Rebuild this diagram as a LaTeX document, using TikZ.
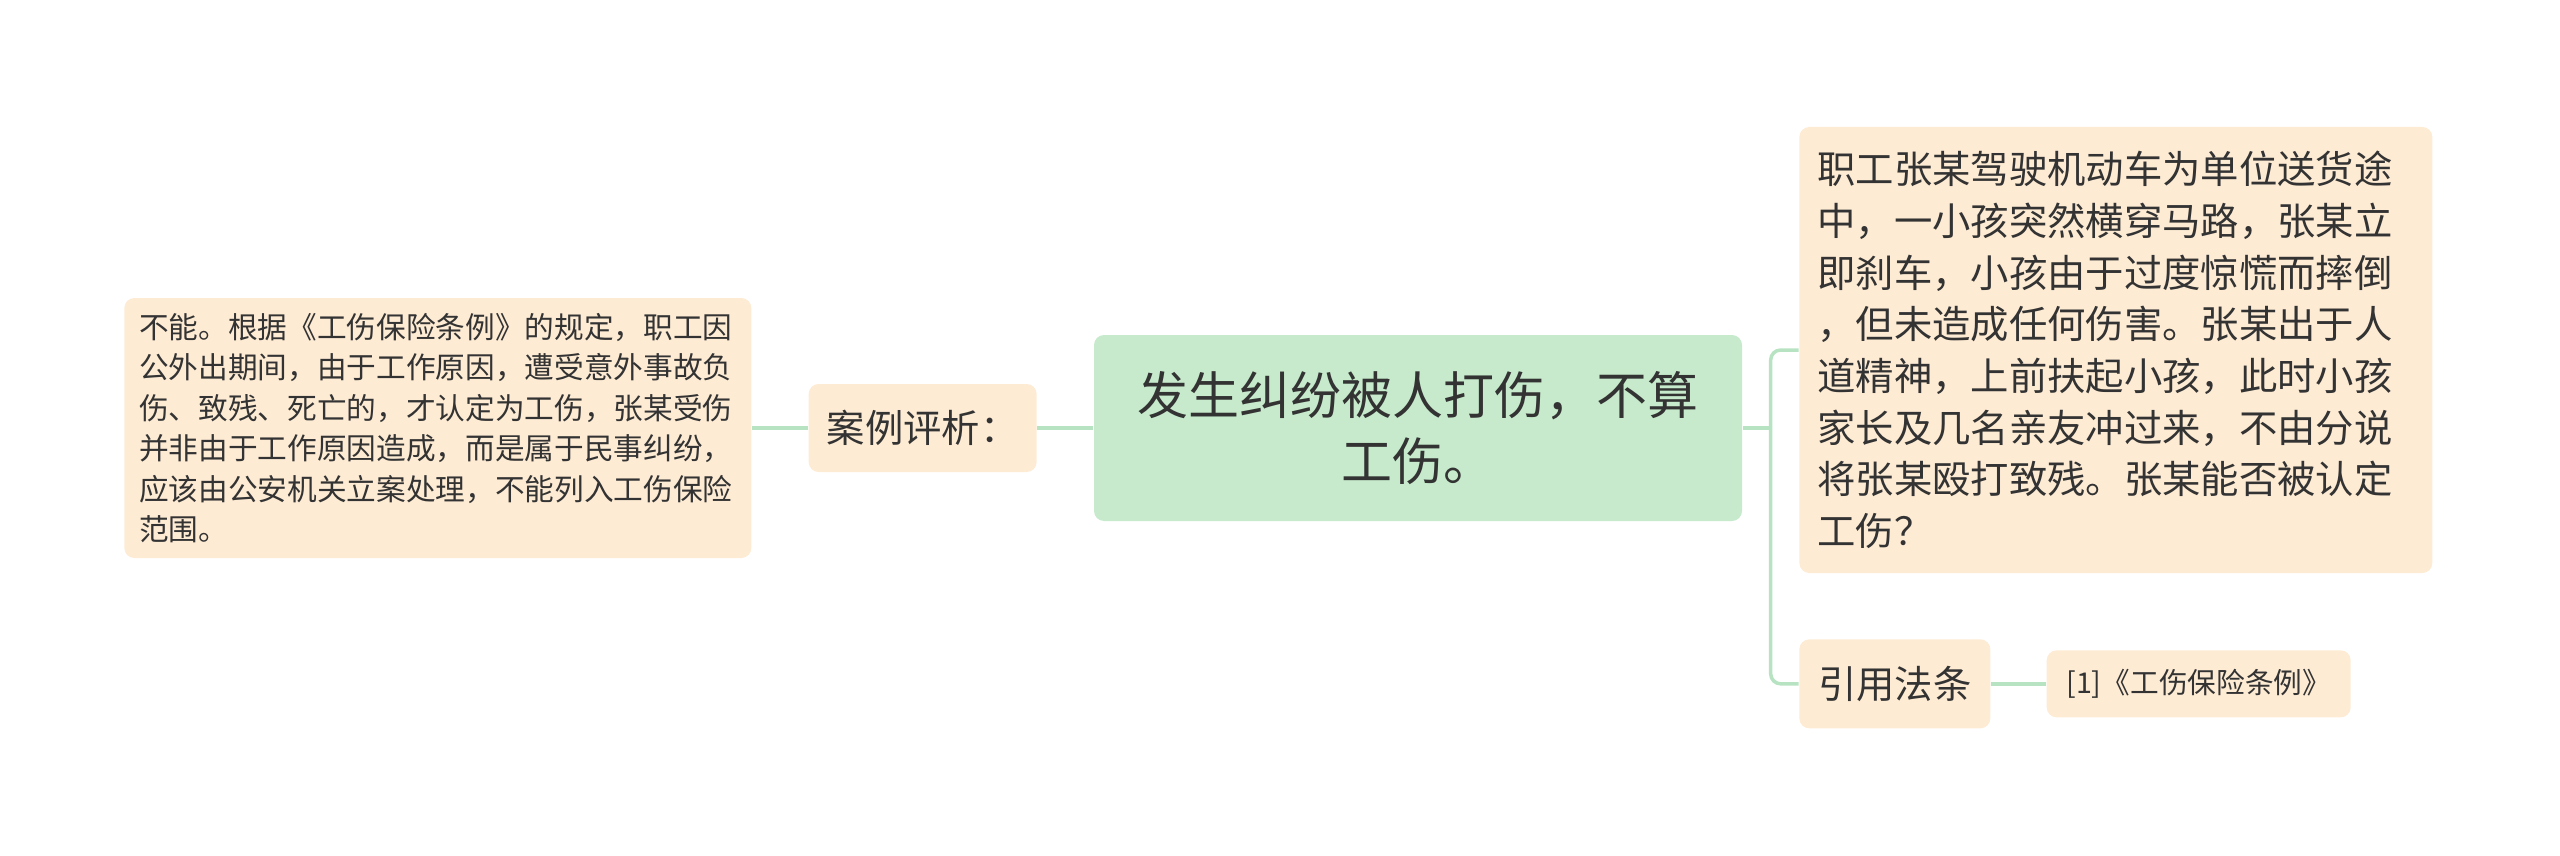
\documentclass[tikz,border=0pt]{standalone}
\usepackage{fontspec}
\setmainfont{Noto Sans CJK SC}
\usetikzlibrary{positioning,calc}
\definecolor{boxfill}{HTML}{FDEBD4}
\definecolor{topfill}{HTML}{C6EACB}
\definecolor{linkcol}{HTML}{B8E3C2}
\definecolor{txt}{HTML}{333333}

\begin{document}
\begin{tikzpicture}[
		node distance=16.8pt,
		topic/.style={fill=topfill,rounded corners=3pt,text=txt,align=center,text width=180pt,inner xsep=7.2pt,minimum height=55.8pt,font=\fontsize{15.3}{19.6}\selectfont},
		leaf/.style={fill=boxfill,rounded corners=3pt,text=txt,inner sep=0pt},
		big/.style={leaf,align=left,font=\fontsize{11.5}{15.5}\selectfont},
		small/.style={leaf,align=left,font=\fontsize{8.9}{12.15}\selectfont},
		link/.style={draw=linkcol,line width=1.05pt}
		]
		\useasboundingbox (0,0) rectangle (768pt,-256.8pt);
		\node[topic] at (425.4pt,-128.4pt) (ctr) {发生纠纷被人打伤，不算\\工伤。};
		\node[leaf,left=of ctr,minimum width=68.4pt,minimum height=26.4pt,font=\fontsize{11.5}{15.5}\selectfont] (case) {案例评析：};
		\node[small,left=of case,text width=179.3pt,inner xsep=4.4pt,minimum height=78pt] (note) {不能。根据《工伤保险条例》的规定，职工因\\公外出期间，由于工作原因，遭受意外事故负\\伤、致残、死亡的，才认定为工伤，张某受伤\\并非由于工作原因造成，而是属于民事纠纷，\\应该由公安机关立案处理，不能列入工伤保险\\范围。};
		\node[big,right=of ctr,yshift=23.4pt,text width=179.1pt,inner xsep=5.4pt,minimum height=133.8pt] (story) {职工张某驾驶机动车为单位送货途\\中，一小孩突然横穿马路，张某立\\即刹车，小孩由于过度惊慌而摔倒\\，但未造成任何伤害。张某出于人\\道精神，上前扶起小孩，此时小孩\\家长及几名亲友冲过来，不由分说\\将张某殴打致残。张某能否被认定\\工伤？};
		\node[leaf,below=19.5pt of story.south west,anchor=north west,minimum width=57.3pt,minimum height=26.7pt,font=\fontsize{11.5}{15.5}\selectfont] (cite) {引用法条};
		\node[leaf,right=16.5pt of cite,minimum width=91.2pt,minimum height=20.1pt,font=\fontsize{8.6}{11}\selectfont] (ref) {[1]《工伤保险条例》};
		% branches
		\coordinate (fork) at ([xshift=8.4pt]ctr.east);
		\draw[link] (ctr.west) -- (case.east);
		\draw[link] (case.west) -- (note.east);
		\draw[link] (ctr.east) -- (fork);
		\draw[link,rounded corners=3pt] (story.west) -| (fork) |- (cite.west);
		\draw[link] (cite.east) -- (ref.west);
	\end{tikzpicture}
\end{document}
